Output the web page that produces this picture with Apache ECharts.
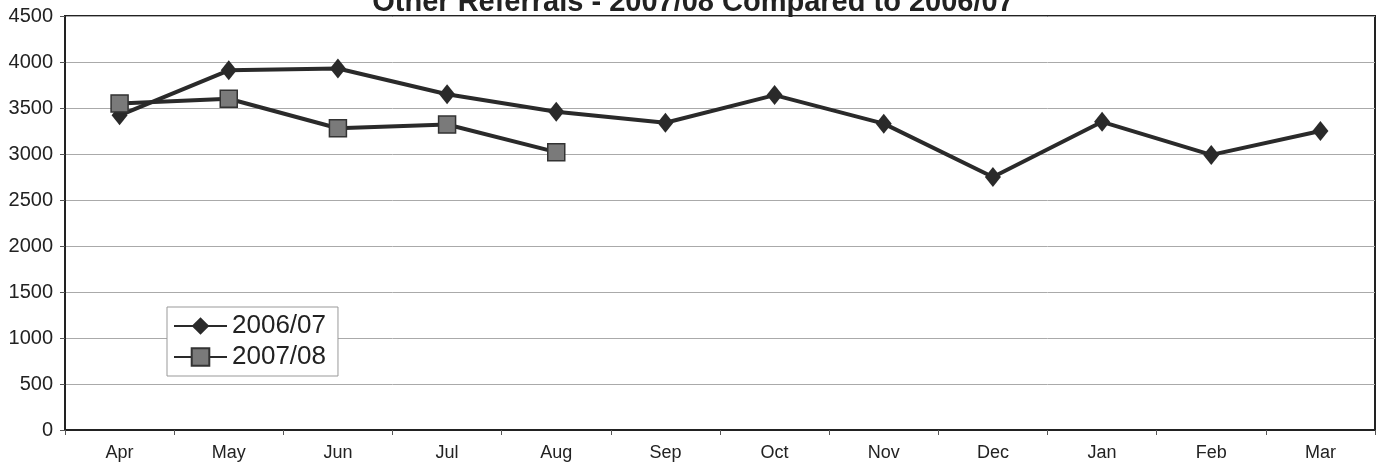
<!DOCTYPE html>
<html><head><meta charset="utf-8">
<script src="https://cdn.jsdelivr.net/npm/echarts@6/dist/echarts.min.js"></script>
<style>html,body{margin:0;padding:0;background:#fff}#c{width:1386px;height:472px}</style>
</head><body><div id="c"></div>
<script>
const titleText = 'Other Referrals - 2007/08 Compared to 2006/07';
const months = ['Apr','May','Jun','Jul','Aug','Sep','Oct','Nov','Dec','Jan','Feb','Mar'];
const s2006 = [3420, 3910, 3930, 3650, 3460, 3340, 3640, 3330, 2750, 3350, 2990, 3250];
const s2007 = [3550, 3600, 3280, 3320, 3020];
const seriesNames = ['2006/07', '2007/08'];

const chart = echarts.init(document.getElementById('c'));
chart.setOption({
  animation: false,
  backgroundColor: '#fff',
  title: {text: titleText, left: 'center', top: -17,
    textStyle: {fontFamily: 'Liberation Sans', fontSize: 29, fontWeight: 'bold', color: '#222'}},
  grid: {left: 65, right: 11, top: 16, bottom: 42, show: true, borderColor: '#222', borderWidth: 2, backgroundColor: 'transparent'},
  legend: {left: 167, top: 307, orient: 'vertical', itemWidth: 53, itemHeight: 22, itemGap: 5,
    padding: [6, 12, 6, 6], borderColor: '#999', borderWidth: 1, backgroundColor: '#fff',
    textStyle: {fontFamily: 'Liberation Sans', fontSize: 26, color: '#222'},
    data: seriesNames},
  xAxis: {type: 'category', data: months, boundaryGap: true,
    axisLine: {lineStyle: {color: '#222', width: 2}},
    axisTick: {show: true, length: 5, lineStyle: {color: '#555'}},
    axisLabel: {fontFamily: 'Liberation Sans', fontSize: 18, color: '#222', margin: 14}},
  yAxis: {type: 'value', min: 0, max: 4500, interval: 500,
    axisLine: {show: true, lineStyle: {color: '#222', width: 2}},
    axisTick: {show: true, length: 5, lineStyle: {color: '#555'}},
    splitLine: {lineStyle: {color: '#aaa', width: 1}},
    axisLabel: {fontFamily: 'Liberation Sans', fontSize: 20, color: '#222', margin: 12,
      formatter: v => String(v)}},
  series: [
    {name: seriesNames[0], type: 'line', data: s2006, symbol: 'diamond', symbolSize: [16, 20],
      lineStyle: {color: '#2a2a2a', width: 4}, itemStyle: {color: '#2a2a2a', borderWidth: 0}, z: 2},
    {name: seriesNames[1], type: 'line', data: s2007, symbol: 'rect', symbolSize: 17,
      lineStyle: {color: '#2a2a2a', width: 4}, itemStyle: {color: '#7a7a7a', borderColor: '#333', borderWidth: 1.5}, z: 3}
  ]
});
</script></body></html>
